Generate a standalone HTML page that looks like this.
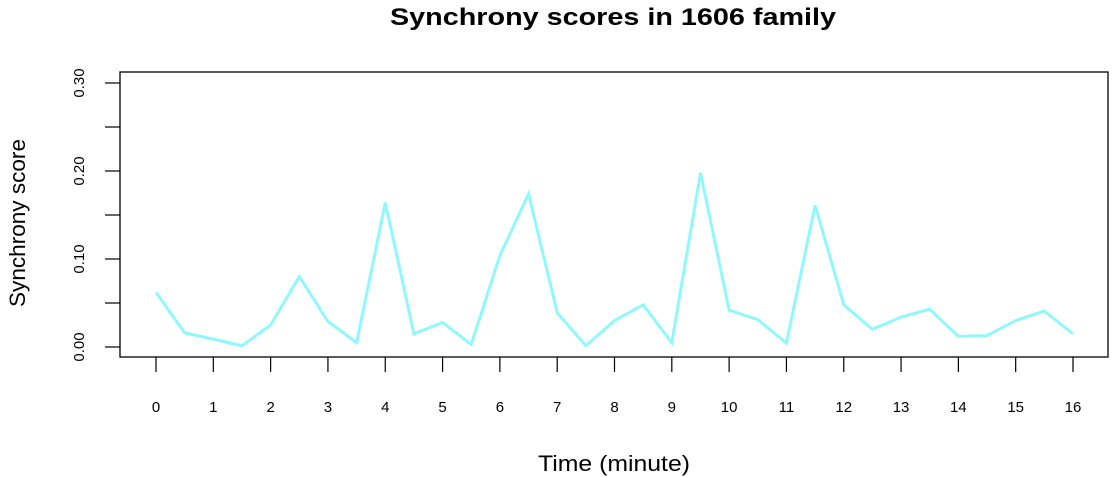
<!DOCTYPE html>
<html><head><meta charset="utf-8"><style>
body{margin:0;background:#fff;}
svg{display:block;font-family:"Liberation Sans",Arial,sans-serif;}
</style></head><body>
<svg id="chart" width="1112" height="477">
<text x="613" y="25" text-anchor="middle" font-size="24" font-weight="bold" textLength="446" lengthAdjust="spacingAndGlyphs">Synchrony scores in 1606 family</text>
<rect x="120" y="72" width="988" height="285" fill="none" stroke="#000" stroke-width="1.3"/>
<g id="yaxis"></g>
<g id="xaxis"></g>
<text x="614" y="471" text-anchor="middle" font-size="22" textLength="152" lengthAdjust="spacingAndGlyphs">Time (minute)</text>
<text transform="translate(25,223) rotate(-90)" text-anchor="middle" font-size="22" textLength="168" lengthAdjust="spacingAndGlyphs">Synchrony score</text>
<g id="series"></g>
</svg>
<script>
const times=[0,0.5,1,1.5,2,2.5,3,3.5,4,4.5,5,5.5,6,6.5,7,7.5,8,8.5,9,9.5,10,10.5,11,11.5,12,12.5,13,13.5,14,14.5,15,15.5,16];
const scores=[0.062,0.016,0.009,0.0015,0.025,0.080,0.029,0.005,0.164,0.015,0.028,0.003,0.104,0.174,0.039,0.0015,0.030,0.048,0.005,0.198,0.042,0.031,0.0045,0.161,0.048,0.020,0.034,0.043,0.012,0.013,0.030,0.041,0.015];
const xTicks=[0,1,2,3,4,5,6,7,8,9,10,11,12,13,14,15,16];
const yTicks=[0,0.05,0.10,0.15,0.20,0.25,0.30];
const yLabels=["0.00","","0.10","","0.20","","0.30"];
const NS="http://www.w3.org/2000/svg";
const xs=v=>156+v*(1073-156)/16;
const ys=v=>347-v*880;
function mk(t,a,p){const e=document.createElementNS(NS,t);for(const k in a)e.setAttribute(k,a[k]);p.appendChild(e);return e;}
const ya=document.getElementById('yaxis');
yTicks.forEach((v,i)=>{
 const t=mk('line',{x1:105,x2:120,y1:ys(v),y2:ys(v),stroke:'#000','stroke-width':1.2},ya);
 
 
 if(yLabels[i]){
  const l=mk('text',{transform:`translate(84,${ys(v)}) rotate(-90)`,'text-anchor':'middle','font-size':15},ya);
  l.textContent=yLabels[i];
  
  
 }
});
const xa=document.getElementById('xaxis');
xTicks.forEach(v=>{
 const t=mk('line',{x1:xs(v),x2:xs(v),y1:357,y2:372,stroke:'#000','stroke-width':1.2},xa);
 
 
 const l=mk('text',{x:xs(v),y:412,'text-anchor':'middle','font-size':15},xa);
 l.textContent=v;
 
 
});
const pts=times.map((t,i)=>xs(t).toFixed(1)+','+ys(scores[i]).toFixed(1)).join(' ');
const line=mk('polyline',{points:pts,fill:'none',stroke:'#8ff8fc','stroke-width':3,'stroke-linejoin':'miter'},document.getElementById('series'));


</script>
</body></html>
